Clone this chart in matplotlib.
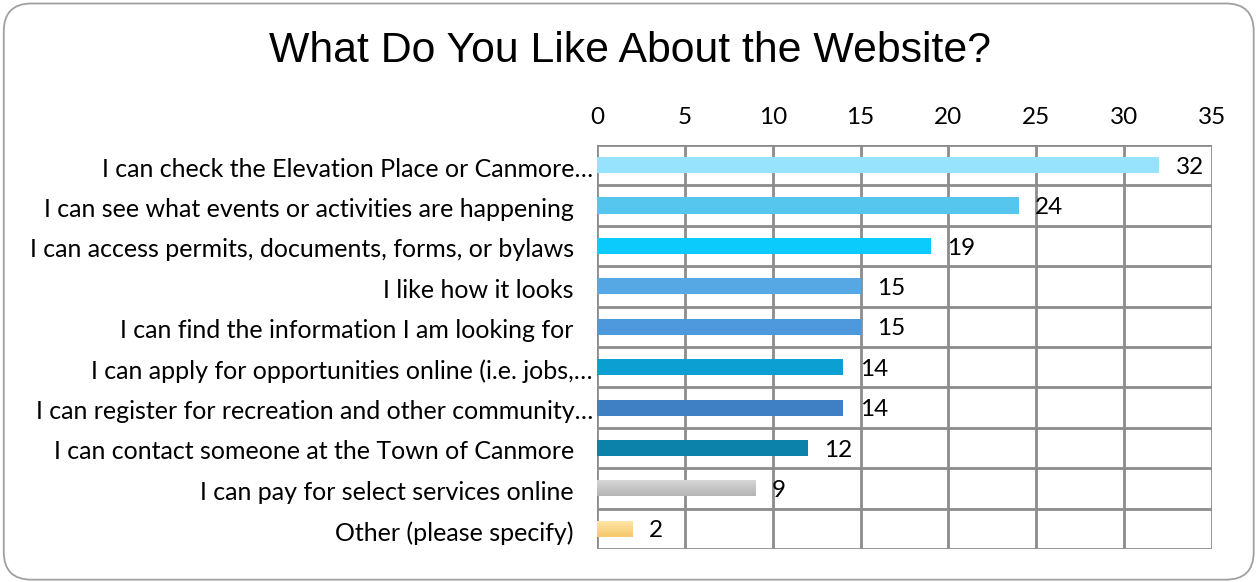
import numpy as np
import matplotlib.pyplot as plt
from matplotlib.patches import FancyBboxPatch
from matplotlib.colors import LinearSegmentedColormap
from matplotlib.transforms import ScaledTranslation

categories = [
    "I can check the Elevation Place or Canmore…",
    "I can see what events or activities are happening",
    "I can access permits, documents, forms, or bylaws",
    "I like how it looks",
    "I can find the information I am looking for",
    "I can apply for opportunities online (i.e. jobs,…",
    "I can register for recreation and other community…",
    "I can contact someone at the Town of Canmore",
    "I can pay for select services online",
    "Other (please specify)",
]
counts = [32, 24, 19, 15, 15, 14, 14, 12, 9, 2]
bar_colors = ["#97E3FD", "#56C6EE", "#0BCBFD", "#55A8E3", "#4E98DE",
              "#0B9FD2", "#3E80C3", "#0C82AA", "#C4C4C4", "#FDD98C"]
# bars with a vertical shading (top colour, bottom colour)
gradients = {8: ("#D9D9D9", "#B4B4B4"), 9: ("#FFE6A8", "#F5C86A")}

label_font = "Lato"
fs = 17.5
grid_col = "#8C8C8C"

fig = plt.figure(figsize=(12.6, 5.82), dpi=100)
frame = FancyBboxPatch((0.003, 0.004), 0.992, 0.99,
                       boxstyle="round,pad=0,rounding_size=0.022",
                       transform=fig.transFigure, facecolor="white",
                       edgecolor="#A0A0A0", linewidth=1.3,
                       mutation_aspect=1260 / 582, zorder=-5)
fig.patches.append(frame)

ax = fig.add_axes([0.4738, 0.0567, 0.9619 - 0.4738, 0.7509 - 0.0567])
ax.patch.set_alpha(0)
y = np.arange(len(categories))
bars = ax.barh(y, counts, height=0.4, color=bar_colors, zorder=3)

for i, (top, bot) in gradients.items():
    b = bars[i]
    b.set_facecolor("none")
    grad = np.linspace(0, 1, 50).reshape(-1, 1)
    cmap = LinearSegmentedColormap.from_list("g%d" % i, [top, bot])
    x0, y0 = b.get_x(), b.get_y()
    im = ax.imshow(grad, cmap=cmap, aspect="auto", zorder=3,
                   extent=[x0, x0 + b.get_width(), y0 + b.get_height(), y0],
                   origin="upper")
    im.set_clip_path(b)

for b, v in zip(bars, counts):
    ax.annotate(str(v), (v, b.get_y() + b.get_height() / 2),
                xytext=(12, -1.5), textcoords="offset points",
                va="center", ha="left", fontsize=fs, family=label_font,
                color="black", zorder=4)

ax.set_xlim(0, 35)
ax.set_ylim(len(categories) - 0.5, -0.5)
ax.set_xticks(np.arange(0, 36, 5))
ax.xaxis.tick_top()
ax.tick_params(axis="x", length=0, pad=12, labelsize=fs)
ax.tick_params(axis="y", length=0, pad=3, labelsize=18)
ax.set_yticks(y)
ax.set_yticklabels(categories)
for t in ax.get_xticklabels() + ax.get_yticklabels():
    t.set_family(label_font)
# full labels keep a trailing gap, truncated ones run up to the axis
for t in ax.get_yticklabels():
    shift = 0 if t.get_text().endswith("…") else -19
    t.set_transform(t.get_transform() +
                    ScaledTranslation(shift / 100, -2 / 100, fig.dpi_scale_trans))

# cell grid: vertical at every 5, horizontal between categories
for xv in np.arange(0, 36, 5):
    ax.axvline(xv, color=grid_col, lw=2, zorder=1)
for yv in np.arange(-0.5, len(categories), 1):
    ax.axhline(yv, color=grid_col, lw=2, zorder=1)
for s in ax.spines.values():
    s.set_visible(False)

fig.text(0.5, 0.913, "What Do You Like About the Website?", ha="center",
         va="center", fontsize=30.8, family="Liberation Sans")

fig.savefig("out.png", dpi=100)
